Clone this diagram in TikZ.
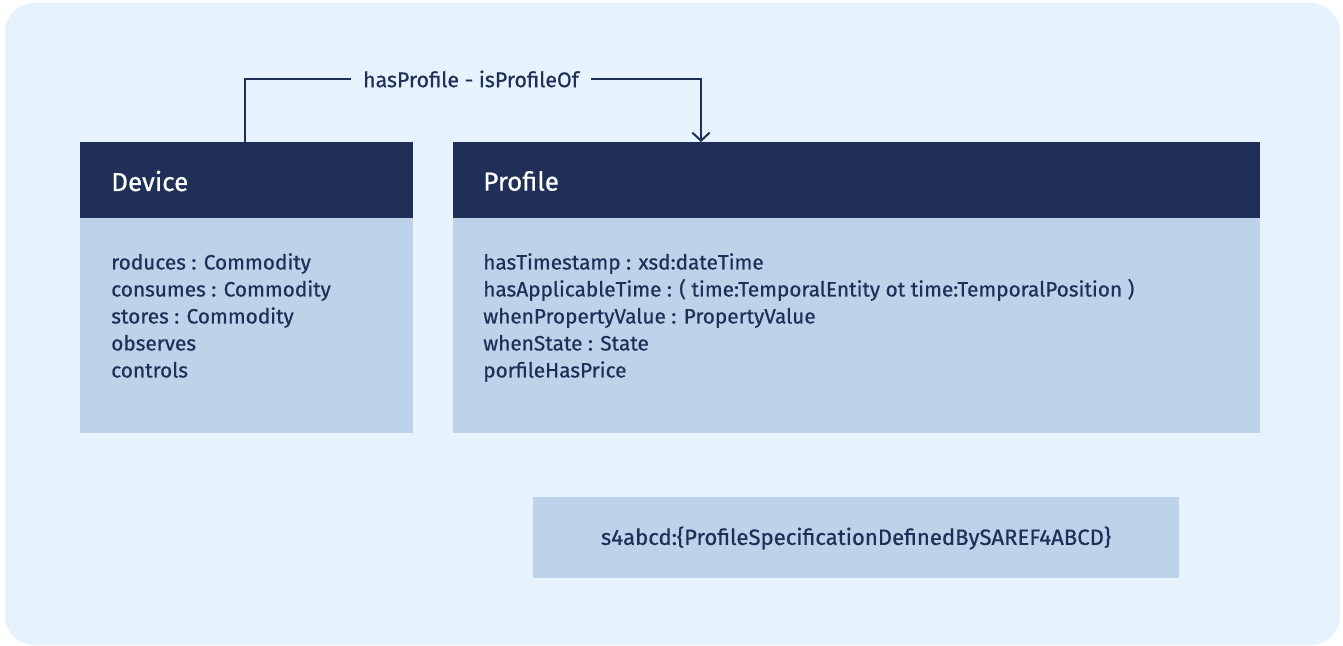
\documentclass[tikz,border=0pt]{standalone}
\usepackage{fontspec}
\setmainfont{Fira Sans}[FakeBold=0.6]
\usetikzlibrary{arrows.meta}
\definecolor{navy}{HTML}{1F2F57}
\definecolor{pale}{HTML}{BCD3EA}
\definecolor{canvas}{HTML}{E6F3FD}
\tikzset{
  head/.style={fill=navy, draw=none},
  body/.style={fill=pale, draw=none},
  title/.style={anchor=west, text=white, font=\fontsize{19.5}{22}\selectfont, inner sep=0pt},
  attrs/.style={anchor=north west, text=navy, align=left, inner sep=0pt,
    font=\fontsize{15.6}{20.25}\selectfont},
  link/.style={draw=navy, line width=1.5pt},
}
\begin{document}
\begin{tikzpicture}[x=0.75pt, y=-0.75pt]
  \useasboundingbox (0,0) rectangle (1343,646);
  \fill[white] (0,0) rectangle (1343,646);
  \fill[canvas, rounded corners=22pt] (5,3) rectangle (1340,645);

  % Device class
  \fill[head] (80,142) rectangle (413,218);
  \fill[body] (80,218) rectangle (413,433);
  \node[title] (devT) at (111,181) {Device};
  \node[attrs] (devA) at (111,253) {roduces : Commodity\\consumes : Commodity\\stores : Commodity\\observes\\controls};
  \coordinate (devTop) at (245,142);

  % Profile class
  \fill[head] (453,142) rectangle (1260,218);
  \fill[body] (453,218) rectangle (1260,433);
  \node[title] (proT) at (483,181) {Profile};
  \node[attrs] (proA) at (483,253) {hasTimestamp : xsd:dateTime\\hasApplicableTime : ( time:TemporalEntity ot time:TemporalPosition )\\whenPropertyValue : PropertyValue\\whenState : State\\porfileHasPrice};
  \coordinate (proTop) at (701,142);

  % Specification box
  \fill[body] (533,497) rectangle (1179,578);
  \node[text=navy, font=\fontsize{16.6}{19}\selectfont, inner sep=0pt] (spec) at (856,538) {s4abcd:\{ProfileSpecificationDefinedBySAREF4ABCD\}};

  % Association
  \node[text=navy, font=\fontsize{16}{19}\selectfont, inner sep=0pt] (rel) at (471,79) {hasProfile - isProfileOf};
  \draw[link] (devTop) |- ([xshift=-9pt]rel.west);
  \draw[link, -{Straight Barb[length=6pt, width=13pt]}] ([xshift=9pt]rel.east) -| (proTop);
\end{tikzpicture}
\end{document}
